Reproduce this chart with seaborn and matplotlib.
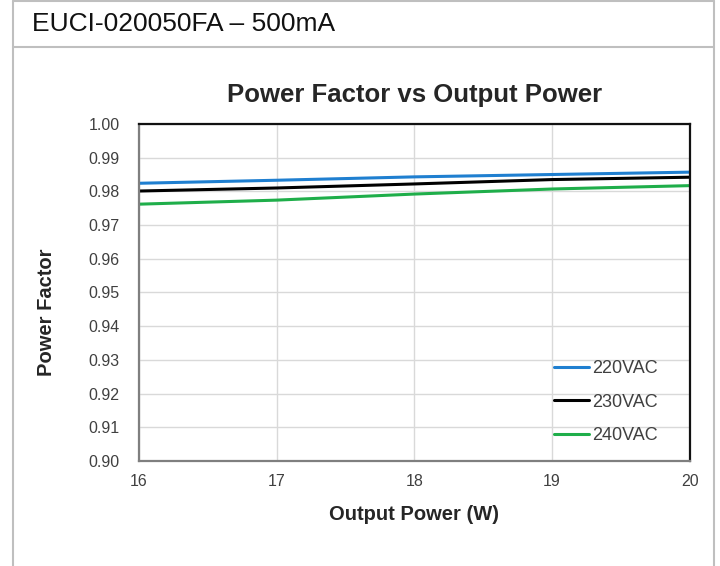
import pandas as pd
import matplotlib
matplotlib.use("Agg")
import matplotlib.pyplot as plt
import seaborn as sns
from matplotlib.lines import Line2D

# datos
potencia = [16, 17, 18, 19, 20]
pf_220 = [0.9824, 0.9833, 0.9843, 0.9850, 0.9857]
pf_230 = [0.9801, 0.9810, 0.9822, 0.9835, 0.9842]
pf_240 = [0.9762, 0.9774, 0.9792, 0.9807, 0.9817]
series = ["220VAC", "230VAC", "240VAC"]
colores = ["#1f7fd0", "#000000", "#1fae4a"]
yticks = [0.90, 0.91, 0.92, 0.93, 0.94, 0.95, 0.96, 0.97, 0.98, 0.99, 1.00]

df = pd.DataFrame({
    "Output Power (W)": potencia * 3,
    "Power Factor": pf_220 + pf_230 + pf_240,
    "serie": [s for s in series for _ in potencia],
})

sns.set_style("white")
plt.rcParams["font.family"] = ["Liberation Sans", "DejaVu Sans"]

fig = plt.figure(figsize=(7.2, 5.66), dpi=100)
ax = fig.add_axes([0.193, 0.1855, 0.765, 0.5955])

sns.lineplot(data=df, x="Output Power (W)", y="Power Factor", hue="serie",
             palette=colores, linewidth=2.2, ax=ax, legend=False)

ax.set_xlim(16, 20)
ax.set_ylim(0.90, 1.00)
ax.set_xticks(potencia)
ax.set_yticks(yticks)
ax.set_yticklabels([f"{v:.2f}" for v in yticks])
ax.grid(True, color="#d9d9d9", linewidth=1)
ax.tick_params(axis="both", length=0, labelsize=11.5, colors="#404040")
ax.tick_params(axis="x", pad=9)
ax.tick_params(axis="y", pad=14)
for lado in ["top", "right"]:
    ax.spines[lado].set_color("#111111")
    ax.spines[lado].set_linewidth(1.6)
for lado in ["left", "bottom"]:
    ax.spines[lado].set_color("#7f7f7f")
    ax.spines[lado].set_linewidth(1.6)

ax.set_xlabel("Output Power (W)", fontsize=14.5, fontweight="bold", labelpad=12)
ax.set_ylabel("Power Factor", fontsize=14.5, fontweight="bold")
ax.yaxis.set_label_coords(-0.15, 0.442)
ax.set_title("Power Factor vs Output Power", fontsize=18.5, fontweight="bold",
             pad=16, x=0.5)

handles = [Line2D([0], [0], color=c, linewidth=2.2) for c in colores]
ax.legend(handles, series, loc="lower right", bbox_to_anchor=(0.942, 0.05),
          frameon=False, fontsize=13, handlelength=1.95, handletextpad=0.15,
          labelspacing=0.92, borderpad=0, borderaxespad=0, labelcolor="#404040")

# marco exterior y cabecera
borde = "#bfbfbf"
fig.add_artist(Line2D([0.0185, 0.0185], [0, 0.998], color=borde, linewidth=1.5, transform=fig.transFigure))
fig.add_artist(Line2D([0.991, 0.991], [0, 0.998], color=borde, linewidth=1.5, transform=fig.transFigure))
fig.add_artist(Line2D([0.0185, 0.991], [0.998, 0.998], color=borde, linewidth=1.5, transform=fig.transFigure))
fig.add_artist(Line2D([0.0185, 0.991], [0.9175, 0.9175], color=borde, linewidth=1.5, transform=fig.transFigure))
fig.text(0.044, 0.958, "EUCI-020050FA \u2013 500mA", fontsize=19, va="center", ha="left",
         color="#111111")

fig.savefig("out.png", dpi=100)
